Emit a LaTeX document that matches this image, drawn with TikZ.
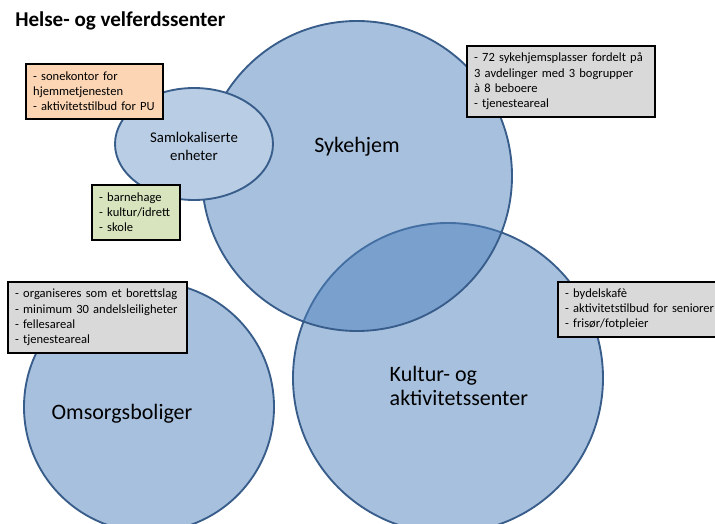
\documentclass[tikz,border=0pt]{standalone}
\usepackage{fontspec}
\setmainfont{Carlito}[BoldFont={Carlito Bold}]
\usetikzlibrary{shadows}
\definecolor{circfill}{HTML}{4F81BD}
\definecolor{circline}{HTML}{385D8A}
\definecolor{ellfill}{HTML}{B9CDE5}
\definecolor{boxorange}{HTML}{FCD5B4}
\definecolor{boxgreen}{HTML}{D7E4BD}
\definecolor{boxgray}{HTML}{D9D9D9}
\tikzset{
  circ/.style={fill=circfill, fill opacity=0.5, draw=circline, draw opacity=1, line width=1.4pt},
  infobox/.style={draw=black, line width=1.3pt, anchor=north west, align=left, inner xsep=5.5pt, inner ysep=0pt,
    font=\fontsize{9.4}{11.4}\selectfont, text opacity=1,
    drop shadow={shadow xshift=0.8pt, shadow yshift=-0.8pt, fill=black, opacity=0.2}},
  biglabel/.style={font=\fontsize{16.5}{18}\selectfont, text=black}
}
\begin{document}
\begin{tikzpicture}[x=0.75pt,y=-0.75pt]
\useasboundingbox (0,0) rectangle (715,524);
\clip (0,0) rectangle (715,524);
% circles
\path[circ] (149,407) circle[radius=125];
\path[circ] (448,378) circle[radius=155];
\path[circ] (357,176) circle[radius=155];
% samlokaliserte
\path[fill=ellfill, draw=circline, line width=1.4pt] (194,144) ellipse[x radius=79, y radius=56];
% labels
\node[biglabel] (syk) at (357,147) {Sykehjem};
\node[font=\fontsize{11.1}{13.5}\selectfont, align=center] (saml) at (194,146) {Samlokaliserte\\enheter};
\node[biglabel] (oms) at (122,414) {Omsorgsboliger};
\node[biglabel, align=left, anchor=west] (kul) at (385,386) {Kultur- og\\aktivitetssenter};
% title
\node[font=\bfseries\fontsize{15.8}{18}\selectfont, anchor=base west, inner sep=0pt] (title) at (15,27) {Helse- og velferdssenter};
% boxes
\node[infobox, fill=boxorange, minimum width=102.75pt, minimum height=41.25pt, text width=91.75pt] (bo) at (25,63)
  {- sonekontor for\\hjemmetjenesten\\- aktivitetstilbud for PU};
\node[infobox, fill=boxgreen, minimum width=66pt, minimum height=41.25pt, text width=55pt] (bg) at (91,184)
  {- barnehage\\- kultur/idrett\\- skole};
\node[infobox, fill=boxgray, minimum width=141pt, minimum height=53.25pt, text width=130pt] (bs) at (466,45)
  {- 72 sykehjemsplasser fordelt på\\3 avdelinger med 3 bogrupper\\à 8 beboere\\- tjenesteareal};
\node[infobox, fill=boxgray, minimum width=134.25pt, minimum height=53.25pt, text width=123.25pt] (bom) at (7,281)
  {- organiseres som et borettslag\\- minimum 30 andelsleiligheter\\- fellesareal\\- tjenesteareal};
\node[infobox, fill=boxgray, minimum width=126pt, minimum height=41.25pt, text width=115pt] (bk) at (557,281)
  {- bydelskafè\\- aktivitetstilbud for seniorer\\- frisør/fotpleier};
\end{tikzpicture}
\end{document}
